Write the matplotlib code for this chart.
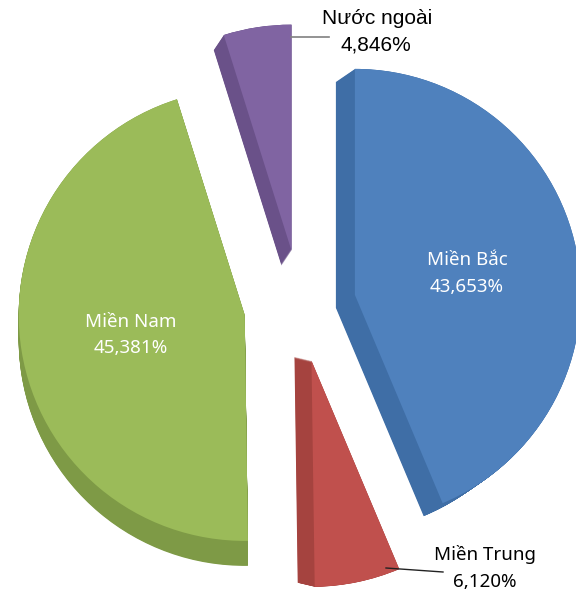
import numpy as np
import matplotlib.pyplot as plt

# data
regions = ['Miền Bắc', 'Miền Trung', 'Miền Nam', 'Nước ngoài']
shares = [43.653, 6.120, 45.381, 4.846]
share_text = ['43,653%', '6,120%', '45,381%', '4,846%']

# style
top_colors = ['#4F81BD', '#C0504D', '#9BBB59', '#8064A2']
side_colors = ['#3F6EA6', '#A5433F', '#7E9A46', '#6A5189']
side_offsets = [(-19, -13), (-17, 4), (0, -25), (-10, -15)]   # fake 3d depth, px
W, H = 576, 596
cx, cy = 300, H - 306
rad = 226
expl = [56] * 4

fig = plt.figure(figsize=(W / 100, H / 100), dpi=100)
ax = fig.add_axes([0, 0, 1, 1])

# side faces: sweep of shifted wedges
for t in np.linspace(0, 1, 40):
    wedges, _ = ax.pie(shares, explode=expl, radius=rad, center=(cx, cy),
                       startangle=90, counterclock=False, colors=side_colors,
                       wedgeprops=dict(linewidth=0))
    for w, (dx, dy) in zip(wedges, side_offsets):
        x0, y0 = w.center
        w.set_center((x0 + t * dx, y0 + t * dy))

# top faces
ax.pie(shares, explode=expl, radius=rad, center=(cx, cy),
       startangle=90, counterclock=False, colors=top_colors,
       wedgeprops=dict(linewidth=0))

ax.set_xlim(0, W)
ax.set_ylim(0, H)
ax.set_aspect('equal')
ax.axis('off')

lab = dict(family=['Noto Sans', 'DejaVu Sans'], fontsize=13.5, ha='center', va='center')
ax.text(467, H - 260, regions[0], color='white', **lab)
ax.text(467, H - 287, share_text[0], color='white', **lab)
ax.text(131, H - 322, regions[2], color='white', **lab)
ax.text(131, H - 348, share_text[2], color='white', **lab)
ax.text(485, H - 555, regions[1], color='black', **lab)
ax.text(485, H - 582, share_text[1], color='black', **lab)
ax.plot([386, 443], [H - 568, H - 572], color='#222222', lw=1)

lab2 = dict(family=['Liberation Sans', 'DejaVu Sans'], fontsize=15, ha='center', va='center')
ax.text(377, H - 18, regions[3], color='black', **lab2)
ax.text(376, H - 45, share_text[3], color='black', **lab2)
ax.plot([291, 329], [H - 37, H - 37], color='#808080', lw=1.2)

fig.savefig('out.png', dpi=100)
